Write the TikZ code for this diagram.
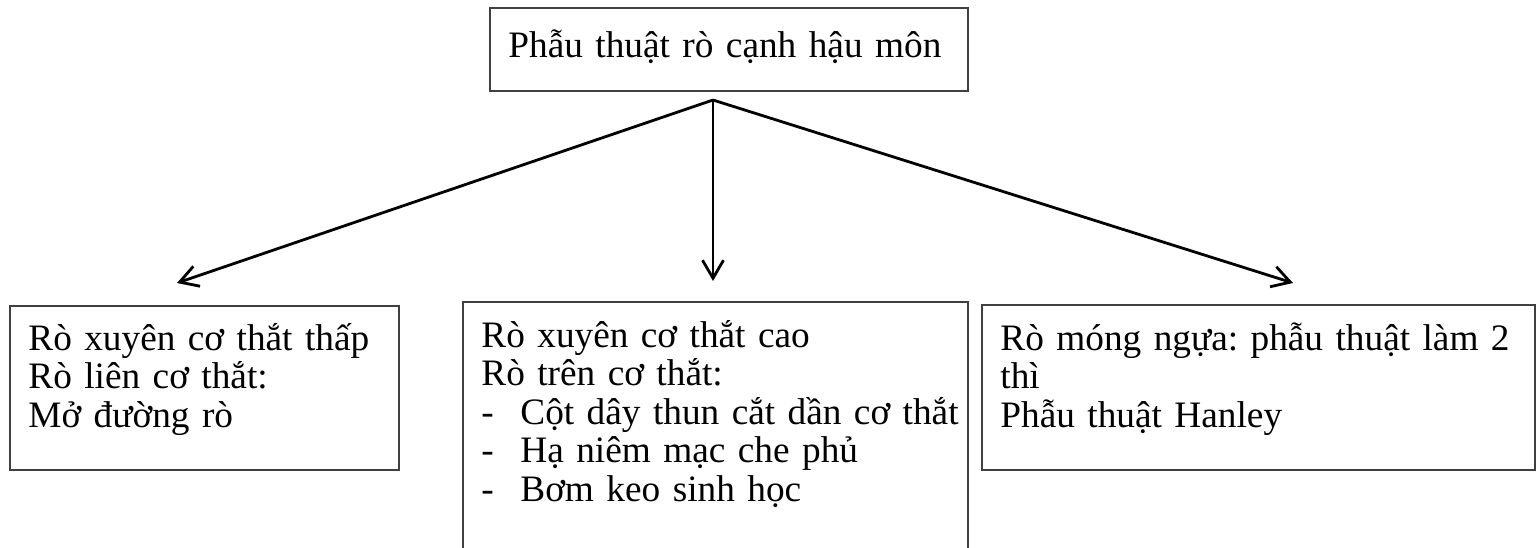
\documentclass[tikz,border=0pt]{standalone}
\usepackage{fontspec}
\setmainfont{Liberation Serif}
\usetikzlibrary{arrows.meta}
\frenchspacing

\begin{document}
\begin{tikzpicture}[
  x=0.5pt, y=-0.5pt,
  box/.style={draw=black!75, line width=1pt, anchor=north west, inner sep=0pt},
  txt/.style={anchor=base west, inner sep=0pt, align=left, font=\fontsize{18.65}{19.25}\selectfont},
  branch/.style={-{Straight Barb[length=9pt, width=10.5pt]}, line width=1.4pt}
]
\useasboundingbox (0,0) rectangle (1537,547);
\clip (0,0) rectangle (1537,547);

% Root
\node[box, minimum width=239pt, minimum height=41.5pt] (root) at (489,7) {};
\node[txt, text width=230pt] (roottext) at (508,57) {Phẫu thuật rò cạnh hậu môn};

% Boxes
\node[box, minimum width=194.5pt, minimum height=82pt] (low) at (9,305) {};
\node[box, minimum width=252.5pt, minimum height=130pt] (high) at (462,301) {};
\node[box, minimum width=276.5pt, minimum height=82.5pt] (horse) at (981,304) {};

\node[txt, text width=185pt] (lowtext) at (28,350) {Rò xuyên cơ thắt thấp\\Rò liên cơ thắt:\\Mở đường rò};
\node[txt, text width=240pt] (hightext) at (481,347) {Rò xuyên cơ thắt cao\\Rò trên cơ thắt:\\
  \makebox[19.5pt][l]{-}Cột dây thun cắt dần cơ thắt\\
  \makebox[19.5pt][l]{-}Hạ niêm mạc che phủ\\
  \makebox[19.5pt][l]{-}Bơm keo sinh học};
\node[txt, text width=262pt] (horsetext) at (1000,350) {Rò móng ngựa: phẫu thuật làm 2\\thì\\Phẫu thuật Hanley};

% Branches
\coordinate (fork) at (713,100);
\coordinate (tipL) at (177,283);
\coordinate (tipM) at (713,281);
\coordinate (tipR) at (1293,283);
\draw[branch] (fork) -- (tipL);
\draw[branch] (fork) -- (tipM);
\draw[branch] (fork) -- (tipR);

\end{tikzpicture}
\end{document}
